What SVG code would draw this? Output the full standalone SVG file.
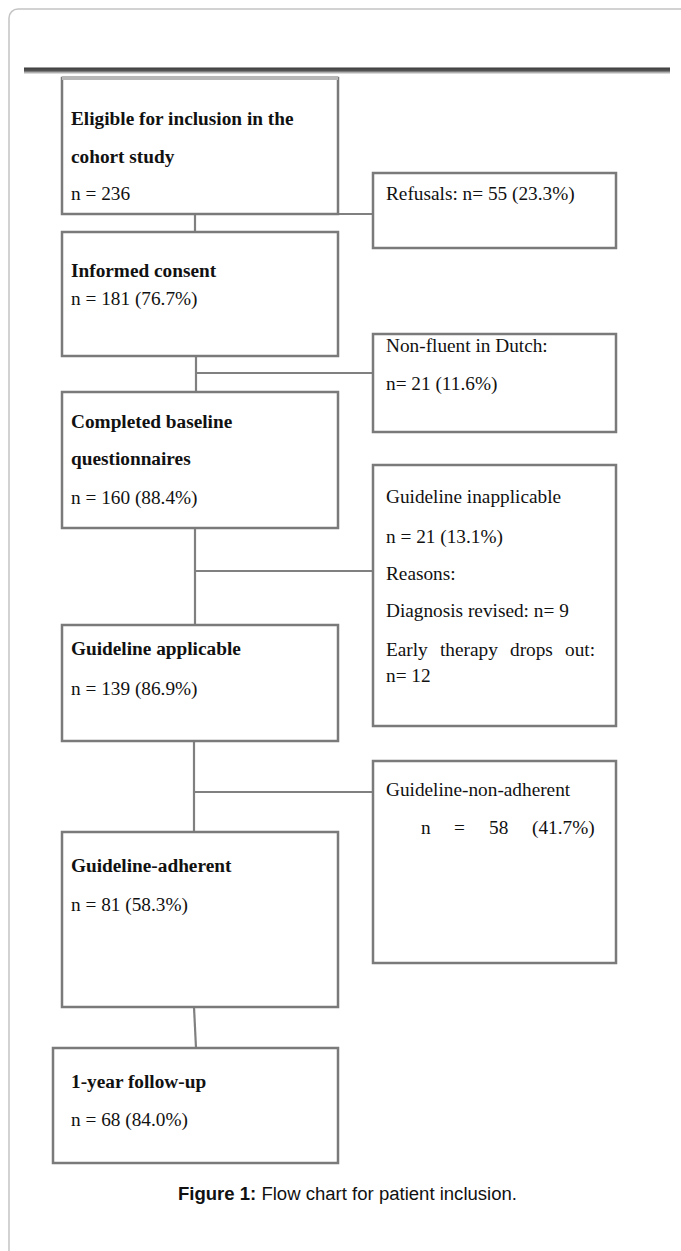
<svg xmlns="http://www.w3.org/2000/svg" width="681" height="1251" viewBox="0 0 681 1251">
<defs>
<linearGradient id="bar" x1="0" y1="0" x2="0" y2="1">
<stop offset="0" stop-color="#3c3c3c"/>
<stop offset="0.5" stop-color="#555"/>
<stop offset="0.75" stop-color="#aaa"/>
<stop offset="1" stop-color="#eee"/>
</linearGradient>
</defs>
<style>
.box{fill:#fff;stroke:#7a7a7a;stroke-width:2.5}
.con{fill:none;stroke:#808080;stroke-width:2.2}
.b{font-family:"Liberation Serif","Times New Roman",serif;font-size:19.3px;font-weight:bold;fill:#111}
.r{font-family:"Liberation Serif","Times New Roman",serif;font-size:19.3px;fill:#111}
.cap{font-family:"Liberation Sans Narrow","Liberation Sans",Arial,sans-serif;font-size:18px;fill:#111}
</style>
<rect x="9" y="9" width="720" height="1300" rx="9" fill="#fff" stroke="#c4c4c4" stroke-width="1.5"/>
<rect x="24" y="67.5" width="646" height="6.5" fill="url(#bar)"/>
<g id="connectors">
<path class="con" d="M195 214V232M338 214H373"/>
<path class="con" d="M196 356V392M196 373H373"/>
<path class="con" d="M195 528V625M195 571H373"/>
<path class="con" d="M194 741V832M194 792H373"/>
<path class="con" d="M194 1007L196 1048"/>
</g>
<g id="n1">
<rect class="box" x="62" y="78" width="276" height="136"/>
<line x1="62" y1="78" x2="338" y2="78" stroke="#b8b8b8" stroke-width="4"/>
<text class="b" x="71" y="125">Eligible for inclusion in the</text>
<text class="b" x="71" y="163">cohort study</text>
<text class="r" x="71" y="200">n = 236</text>
</g>
<g id="n_refusals">
<rect class="box" x="373" y="173" width="243" height="75"/>
<text class="r" x="386" y="200">Refusals: n= 55 (23.3%)</text>
</g>
<g id="n2">
<rect class="box" x="62" y="232" width="276" height="124"/>
<text class="b" x="71" y="277">Informed consent</text>
<text class="r" x="71" y="305">n = 181 (76.7%)</text>
</g>
<g id="n_nonfluent">
<rect class="box" x="373" y="334" width="243" height="98"/>
<text class="r" x="386" y="352">Non-fluent in Dutch:</text>
<text class="r" x="386" y="390">n= 21 (11.6%)</text>
</g>
<g id="n3">
<rect class="box" x="62" y="392" width="276" height="136"/>
<text class="b" x="71" y="428">Completed baseline</text>
<text class="b" x="71" y="465">questionnaires</text>
<text class="r" x="71" y="504">n = 160 (88.4%)</text>
</g>
<g id="n_inapplicable">
<rect class="box" x="373" y="465" width="243" height="261"/>
<text class="r" x="386" y="503">Guideline inapplicable</text>
<text class="r" x="386" y="543">n = 21 (13.1%)</text>
<text class="r" x="386" y="580">Reasons:</text>
<text class="r" x="386" y="617">Diagnosis revised: n= 9</text>
<text class="r" y="656"><tspan x="386">Early</tspan><tspan x="440">therapy</tspan><tspan x="510">drops</tspan><tspan x="565">out:</tspan></text>
<text class="r" x="386" y="682">n= 12</text>
</g>
<g id="n4">
<rect class="box" x="62" y="625" width="276" height="116"/>
<text class="b" x="71" y="655">Guideline applicable</text>
<text class="r" x="71" y="695">n = 139 (86.9%)</text>
</g>
<g id="n_nonadherent">
<rect class="box" x="373" y="761" width="243" height="202"/>
<text class="r" x="386" y="796">Guideline-non-adherent</text>
<text class="r" y="834"><tspan x="421">n</tspan><tspan x="454">=</tspan><tspan x="489">58</tspan><tspan x="532">(41.7%)</tspan></text>
</g>
<g id="n5">
<rect class="box" x="62" y="832" width="276" height="175"/>
<text class="b" x="71" y="872">Guideline-adherent</text>
<text class="r" x="71" y="911">n = 81 (58.3%)</text>
</g>
<g id="n6">
<rect class="box" x="53" y="1048" width="285" height="115"/>
<text class="b" x="71" y="1088">1-year follow-up</text>
<text class="r" x="71" y="1126">n = 68 (84.0%)</text>
</g>
<text class="cap" x="178" y="1200" textLength="339" lengthAdjust="spacingAndGlyphs"><tspan font-weight="bold">Figure 1:</tspan> Flow chart for patient inclusion.</text>
</svg>
